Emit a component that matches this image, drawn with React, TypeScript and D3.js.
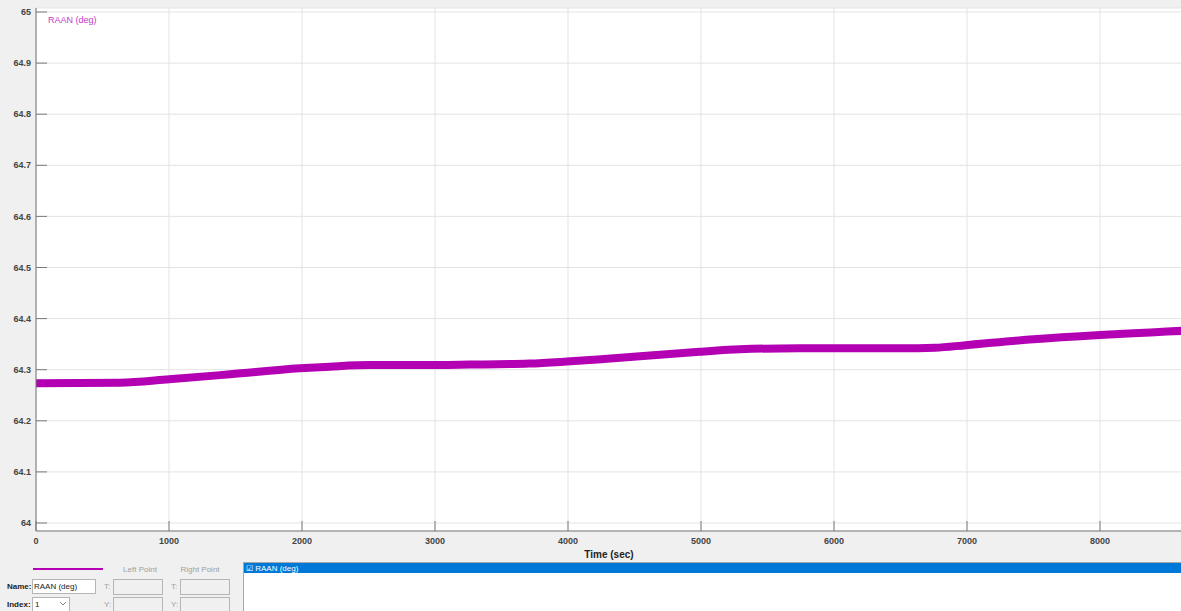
import React from "react";
import * as d3 from "d3";

const timeSec = [0, 630, 1000, 1460, 1985, 2210, 2510, 2890, 3260, 3710, 3990, 4320, 4990, 5290, 5740, 6500, 6760, 6990, 7470, 8000, 8380, 8610];
const raanDeg = [64.2734, 64.2746, 64.2812, 64.291, 64.3027, 64.306, 64.309, 64.309, 64.310, 64.312, 64.316, 64.322, 64.335, 64.340, 64.342, 64.342, 64.343, 64.348, 64.359, 64.368, 64.373, 64.376];
const xTicks = [0, 1000, 2000, 3000, 4000, 5000, 6000, 7000, 8000];
const yTicks = [64, 64.1, 64.2, 64.3, 64.4, 64.5, 64.6, 64.7, 64.8, 64.9, 65];
const seriesName = "RAAN (deg)";
const xTitle = "Time (sec)";

const W = 1181;
const H = 611;
const L = 36;
const T = 8;
const B = 531;

export default function App() {
  const x = d3.scaleLinear().domain([0, 8609]).range([L, W]);
  const y = d3.scaleLinear().domain([64, 65]).range([523, 12]);
  const line = d3
    .line<number>()
    .x((_, i) => x(timeSec[i]))
    .y((d) => y(d))
    .curve(d3.curveMonotoneX);
  const font = "Arial, 'Liberation Sans', sans-serif";
  const mag = "#b300b3";
  return (
    <svg
      width={W}
      height={H}
      style={{ position: "absolute", left: 0, top: 0, fontFamily: font }}
    >
      <rect x={0} y={0} width={W} height={H} fill="#f0f0f0" />
      <rect x={L} y={T} width={W - L + 5} height={B - T} fill="#ffffff" stroke="#e3e3e3" />
      <clipPath id="plot">
        <rect x={L} y={T} width={W - L} height={B - T} />
      </clipPath>
      {xTicks.map((t) => (
        <line key={"gx" + t} x1={x(t)} x2={x(t)} y1={T} y2={B} stroke="#e3e3e3" strokeWidth={1} />
      ))}
      {yTicks.map((t) => (
        <line key={"gy" + t} x1={L} x2={W} y1={y(t)} y2={y(t)} stroke="#e3e3e3" strokeWidth={1} />
      ))}
      <path d={line(raanDeg) || ""} fill="none" stroke={mag} strokeWidth={8} clipPath="url(#plot)" />
      <line x1={L} x2={L} y1={T} y2={B} stroke="#7a7a7a" strokeWidth={1} />
      <line x1={L} x2={W} y1={B} y2={B} stroke="#7a7a7a" strokeWidth={1} />
      {yTicks.map((t) => (
        <g key={"ty" + t}>
          <line x1={L} x2={L + 11} y1={y(t)} y2={y(t)} stroke="#7a7a7a" />
          <text x={31} y={y(t)} dy="0.35em" textAnchor="end" fontSize={9} fontWeight="bold" fill="#444">
            {d3.format(".1~f")(t)}
          </text>
        </g>
      ))}
      {xTicks.map((t) => (
        <g key={"tx" + t}>
          <line x1={x(t)} x2={x(t)} y1={B} y2={B - 10} stroke="#7a7a7a" />
          <text x={x(t)} y={544} textAnchor="middle" fontSize={9} fontWeight="bold" fill="#444">
            {t}
          </text>
        </g>
      ))}
      <text x={609} y={558} textAnchor="middle" fontSize={10} fontWeight="bold" fill="#222">
        {xTitle}
      </text>
      <text x={48} y={23} fontSize={9} fill="#c43ac4">
        {seriesName}
      </text>

      {/* bottom panel */}
      <line x1={33} x2={103} y1={569} y2={569} stroke={mag} strokeWidth={2} />
      <text x={140} y={572} textAnchor="middle" fontSize={8} fill="#a0a0a0">Left Point</text>
      <text x={200} y={572} textAnchor="middle" fontSize={8} fill="#a0a0a0">Right Point</text>
      <text x={7} y={589} fontSize={8} fontWeight="bold" fill="#222">Name:</text>
      <rect x={32.5} y={579.5} width={63} height={14} fill="#fff" stroke="#b5b5b5" />
      <text x={34} y={589} fontSize={8} fill="#222">{seriesName}</text>
      <text x={7} y={607} fontSize={8} fontWeight="bold" fill="#222">Index:</text>
      <rect x={32.5} y={597.5} width={37} height={14} fill="#fff" stroke="#b5b5b5" />
      <text x={35} y={607} fontSize={8} fill="#222">1</text>
      <path d="M60,602 L63,605 L66,602" fill="none" stroke="#888" />
      <text x={104} y={589} fontSize={8} fill="#a0a0a0">T:</text>
      <rect x={113.5} y={579.5} width={49} height={15} fill="#f0f0f0" stroke="#b5b5b5" />
      <text x={104} y={607} fontSize={8} fill="#a0a0a0">Y:</text>
      <rect x={113.5} y={597.5} width={49} height={15} fill="#f0f0f0" stroke="#b5b5b5" />
      <text x={171} y={589} fontSize={8} fill="#a0a0a0">T:</text>
      <rect x={180.5} y={579.5} width={49} height={15} fill="#f0f0f0" stroke="#b5b5b5" />
      <text x={171} y={607} fontSize={8} fill="#a0a0a0">Y:</text>
      <rect x={180.5} y={597.5} width={49} height={15} fill="#f0f0f0" stroke="#b5b5b5" />
      <rect x={243.5} y={562.5} width={W - 243} height={52} fill="#fff" stroke="#a8a8a8" />
      <rect x={244} y={563} width={W - 244} height={10} fill="#0078d7" />
      <text x={246} y={571} fontSize={8} fill="#fff">{"☑ " + seriesName}</text>
    </svg>
  );
}
